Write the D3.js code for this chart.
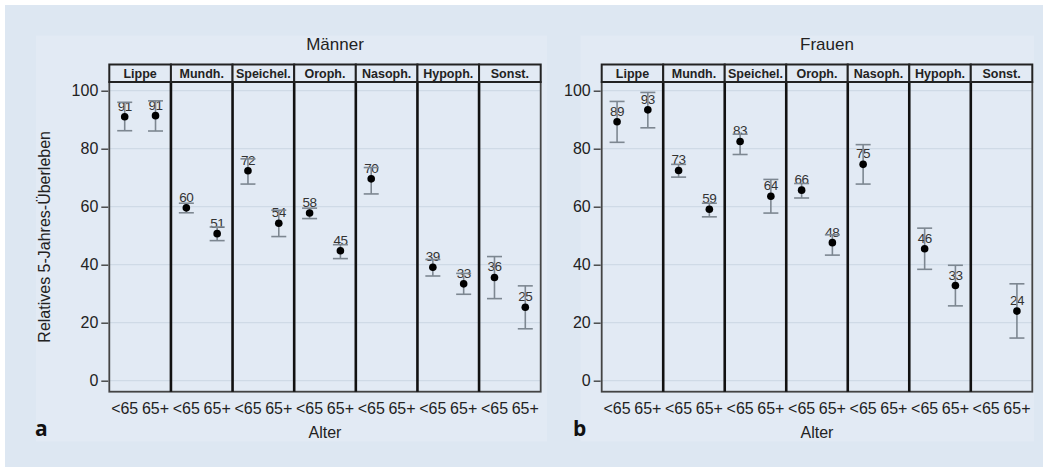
<!DOCTYPE html>
<html>
<head>
<meta charset="utf-8">
<script src="https://cdn.jsdelivr.net/npm/d3@7"></script>
<style>
  body { margin: 0; background: #fff; }
  svg text { font-family: "Liberation Sans", Arial, sans-serif; }
</style>
</head>
<body>
<script>
// ================================ data
var categories = ["Lippe", "Mundh.", "Speichel.", "Oroph.", "Nasoph.", "Hypoph.", "Sonst."];
var ageGroups = ["<65", "65+"];
var yTicks = [0, 20, 40, 60, 80, 100];

// Männer
var menUnder65 = [91.0, 59.6, 72.4, 57.8, 69.6, 39.1, 35.6];
var menUnder65Lo = [86.2, 57.9, 67.8, 55.9, 64.4, 36.1, 28.3];
var menUnder65Hi = [96.0, 61.2, 76.5, 59.5, 73.5, 41.8, 42.8];
var men65plus = [91.4, 50.7, 54.3, 44.8, null, 33.4, 25.3];
var men65plusLo = [86.1, 48.3, 49.7, 42.1, null, 29.8, 17.9];
var men65plusHi = [96.5, 53.0, 58.8, 46.9, null, 37.0, 32.7];

// Frauen
var womenUnder65 = [89.3, 72.5, 82.5, 65.7, 74.6, 45.5, null];
var womenUnder65Lo = [82.2, 70.2, 78.0, 63.0, 67.8, 38.4, null];
var womenUnder65Hi = [96.3, 74.6, 85.0, 68.0, 81.4, 52.6, null];
var women65plus = [93.4, 59.1, 63.6, 47.6, null, 32.8, 24.0];
var women65plusLo = [87.2, 56.5, 57.8, 43.3, null, 25.8, 14.7];
var women65plusHi = [99.4, 61.2, 69.4, 50.3, null, 39.8, 33.4];

// ================================ layout
var svgWidth = 1048;
var svgHeight = 467;
var plotTop = 82, plotBottom = 391.7;
var headerTop = 64.5;

var svg = d3.select("body").append("svg")
  .attr("width", svgWidth)
  .attr("height", svgHeight);

svg.append("rect").attr("x", 5).attr("y", 5)
  .attr("width", 1038).attr("height", 462).attr("fill", "#dde7f2");

var yScale = d3.scaleLinear().domain([-3.8, 103]).range([plotBottom, plotTop]);

function rows(est, lo, hi, age) {
  return categories.map(function (c, i) {
    return { cat: c, age: age, v: est[i], lo: lo[i], hi: hi[i] };
  }).filter(function (d) { return d.v != null; });
}

function drawPanel(opt) {
  var g = svg.append("g");

  g.append("rect").attr("x", opt.box[0]).attr("y", 35.5)
    .attr("width", opt.box[1] - opt.box[0]).attr("height", 406)
    .attr("fill", "#e2eaf4");

  var xBand = d3.scaleBand().domain(categories).range([opt.left, opt.right]).padding(0);
  var xAge = d3.scalePoint().domain(ageGroups).range([0, xBand.bandwidth()]).padding(0.5);
  var cx = function (d) { return xBand(d.cat) + xAge(d.age); };

  // grid
  g.selectAll(".grid").data(yTicks).enter().append("line")
    .attr("x1", opt.left).attr("x2", opt.right)
    .attr("y1", d => yScale(d)).attr("y2", d => yScale(d))
    .attr("stroke", "#cfdae6").attr("stroke-width", 1.2);

  // y axis
  var leftAxis = d3.axisLeft(yScale).tickValues(yTicks).tickSize(7).tickPadding(3);
  var ax = g.append("g").attr("transform", `translate(${opt.left - 1}, 0)`).call(leftAxis);
  ax.select(".domain").remove();
  ax.selectAll("line").attr("stroke", "#333").attr("stroke-width", 1.3);
  ax.selectAll("text").attr("font-size", 16).attr("fill", "#222")
    .style("font-family", "'Liberation Sans', Arial, sans-serif");

  // plot frame + dividers
  g.append("rect").attr("x", opt.left).attr("y", plotTop)
    .attr("width", opt.right - opt.left).attr("height", plotBottom - plotTop)
    .attr("fill", "none").attr("stroke", "#444").attr("stroke-width", 1.8);
  g.selectAll(".div").data(categories.slice(1)).enter().append("line")
    .attr("x1", d => xBand(d)).attr("x2", d => xBand(d))
    .attr("y1", plotTop).attr("y2", plotBottom)
    .attr("stroke", "#111").attr("stroke-width", 2.6);

  // header strip
  g.selectAll(".hdr").data(categories).enter().append("rect")
    .attr("x", d => xBand(d)).attr("y", headerTop)
    .attr("width", xBand.bandwidth()).attr("height", plotTop - headerTop)
    .attr("fill", "#e2eaf4").attr("stroke", "#222").attr("stroke-width", 2);
  g.selectAll(".hdrtxt").data(categories).enter().append("text")
    .attr("x", d => xBand(d) + xBand.bandwidth() / 2).attr("y", headerTop + 13)
    .attr("text-anchor", "middle").attr("font-size", 12.5).attr("font-weight", "bold")
    .attr("fill", "#222").text(d => d);

  // title
  g.append("text").attr("x", (opt.left + opt.right) / 2 + 10).attr("y", 50)
    .attr("text-anchor", "middle").attr("font-size", 17).attr("fill", "#222")
    .text(opt.title);

  var data = rows(opt.u, opt.uLo, opt.uHi, "<65").concat(rows(opt.o, opt.oLo, opt.oHi, "65+"));

  // value labels
  g.selectAll(".lab").data(data).enter().append("text")
    .attr("x", cx).attr("y", d => yScale(d.v) - 6)
    .attr("text-anchor", "middle").attr("font-size", 13.5).attr("fill", "#333")
    .attr("letter-spacing", -0.5)
    .text(d => Math.round(d.v));

  // error bars
  var eb = g.selectAll(".eb").data(data).enter().append("g").attr("stroke", "#7d8791").attr("stroke-width", 1.6);
  eb.append("line").attr("x1", cx).attr("x2", cx)
    .attr("y1", d => yScale(d.lo)).attr("y2", d => yScale(d.hi));
  eb.append("line").attr("x1", d => cx(d) - 7.5).attr("x2", d => cx(d) + 7.5)
    .attr("y1", d => yScale(d.lo)).attr("y2", d => yScale(d.lo));
  eb.append("line").attr("x1", d => cx(d) - 7.5).attr("x2", d => cx(d) + 7.5)
    .attr("y1", d => yScale(d.hi)).attr("y2", d => yScale(d.hi));

  // points
  g.selectAll(".pt").data(data).enter().append("circle")
    .attr("cx", cx).attr("cy", d => yScale(d.v)).attr("r", 3.8).attr("fill", "#000");

  // age labels
  var ageRows = [];
  categories.forEach(function (c) { ageGroups.forEach(function (a) { ageRows.push({ cat: c, age: a }); }); });
  g.selectAll(".age").data(ageRows).enter().append("text")
    .attr("x", cx).attr("y", 414)
    .attr("text-anchor", "middle").attr("font-size", 16).attr("fill", "#222")
    .text(d => d.age);

  g.append("text").attr("x", (opt.left + opt.right) / 2).attr("y", 438)
    .attr("text-anchor", "middle").attr("font-size", 16).attr("fill", "#222").text("Alter");

  g.append("text").attr("x", opt.letterX).attr("y", 436)
    .attr("font-size", 21).attr("font-weight", "bold").attr("fill", "#111")
    .style("font-family", "'Open Sans', 'DejaVu Sans', sans-serif")
    .text(opt.letter);
}

drawPanel({ title: "Männer", letter: "a", letterX: 35, left: 109.3, right: 540.7, box: [36, 547],
  u: menUnder65, uLo: menUnder65Lo, uHi: menUnder65Hi, o: men65plus, oLo: men65plusLo, oHi: men65plusHi });
drawPanel({ title: "Frauen", letter: "b", letterX: 573, left: 601.7, right: 1032.3, box: [580.5, 1034],
  u: womenUnder65, uLo: womenUnder65Lo, uHi: womenUnder65Hi, o: women65plus, oLo: women65plusLo, oHi: women65plusHi });

// y axis title (left panel only)
svg.append("text")
  .attr("transform", `translate(50, ${(plotTop + plotBottom) / 2}) rotate(-90)`)
  .attr("text-anchor", "middle").attr("font-size", 16).attr("fill", "#222")
  .text("Relatives 5-Jahres-Überleben");
</script>
</body>
</html>
